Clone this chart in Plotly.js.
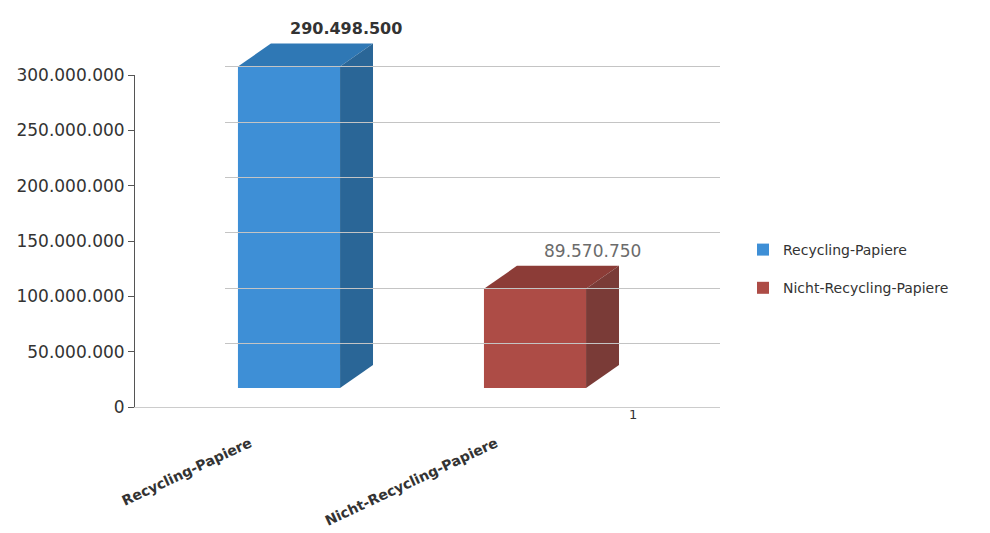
<!DOCTYPE html>
<html>
<head>
<meta charset="utf-8">
<script src="https://cdn.plot.ly/plotly-3.0.1.min.js"></script>
<style>html,body{margin:0;padding:0;background:#fff;}#chart{width:990px;height:533px;}</style>
</head>
<body>
<div id="chart"></div>
<script>
// ---- data ----
const categories = ['Recycling-Papiere', 'Nicht-Recycling-Papiere'];
const seriesNames = ['Recycling-Papiere', 'Nicht-Recycling-Papiere'];
const values = [290498500, 89570750];
const yTickValues = [0, 50000000, 100000000, 150000000, 200000000, 250000000, 300000000];
const depthLabel = '1';

// ---- styling ----
const frontColors = ['#3e8fd6', '#ad4c46'];
const topColors = ['#2f78b5', '#8c3c37'];
const sideColors = ['#2a6697', '#7a3b37'];
const labelColors = ['#333333', '#6b6b6b'];
const barWidth = 0.415;
const depthX = 0.134;       // in category units
const depthY = 20800000;    // in value units

const traces = [];
values.forEach((v, i) => {
  traces.push({
    type: 'bar', x: [i], y: [v], width: barWidth,
    name: seriesNames[i], legendgroup: 'g' + i,
    xaxis: 'x', yaxis: 'y2',
    marker: {color: frontColors[i], line: {width: 0}},
    hoverinfo: 'y'
  });
});
values.forEach((v, i) => {
  const l = i - barWidth / 2, r = i + barWidth / 2;
  // top face
  traces.push({
    type: 'scatter', mode: 'lines', fill: 'toself', xaxis: 'x', yaxis: 'y2',
    x: [l, r, r + depthX, l + depthX, l],
    y: [v, v, v + depthY, v + depthY, v],
    fillcolor: topColors[i], line: {width: 0, color: topColors[i]},
    showlegend: false, hoverinfo: 'skip'
  });
  // side face
  traces.push({
    type: 'scatter', mode: 'lines', fill: 'toself', xaxis: 'x', yaxis: 'y2',
    x: [r, r + depthX, r + depthX, r, r],
    y: [v, v + depthY, depthY, 0, v],
    fillcolor: sideColors[i], line: {width: 0, color: sideColors[i]},
    showlegend: false, hoverinfo: 'skip'
  });
});
// invisible trace to create gridline subplot
traces.push({type: 'scatter', x: [0], y: [0], xaxis: 'x2', yaxis: 'y3', mode: 'markers',
  marker: {opacity: 0}, showlegend: false, hoverinfo: 'skip'});

const fmt = n => n.toString().replace(/\B(?=(\d{3})+(?!\d))/g, '.');

const annotations = values.map((v, i) => ({
  xref: 'x', yref: 'y2', x: i + 0.2, y: v + depthY, xshift: 8, yshift: 3,
  text: fmt(v), showarrow: false, xanchor: 'center', yanchor: 'bottom',
  font: {family: 'DejaVu Sans', size: i === 0 ? 16 : 17, color: labelColors[i], weight: i === 0 ? 'bold' : 'normal'}
}));
annotations.push({xref: 'x', yref: 'y', x: 1.4, y: 0, yshift: 2, yanchor: 'top',
  text: depthLabel, showarrow: false, font: {family: 'DejaVu Sans', size: 13, color: '#333'}});

const P = p => (533 - p) / 533;

const layout = {
  width: 990, height: 533,
  margin: {l: 0, r: 0, t: 0, b: 0},
  paper_bgcolor: '#ffffff', plot_bgcolor: 'rgba(0,0,0,0)',
  separators: ',.',
  barmode: 'overlay',
  showlegend: true,
  legend: {x: 0.7505, xanchor: 'left', y: P(234), yanchor: 'top',
    font: {family: 'DejaVu Sans', size: 14, color: '#333'},
    tracegroupgap: 17, traceorder: 'grouped', bgcolor: 'rgba(0,0,0,0)'},
  xaxis: {domain: [135 / 990, 720 / 990], range: [-0.626, 1.752], anchor: 'y',
    tickvals: [0, 1], ticktext: categories, tickangle: -25,
    ticklabelshift: -39, ticklabelstandoff: 22, ticks: '',
    showgrid: false, zeroline: false, showline: true, linecolor: '#cccccc', linewidth: 1,
    tickfont: {family: 'DejaVu Sans', size: 14, color: '#333', weight: 'bold'}, fixedrange: true},
  yaxis: {domain: [P(407), P(75)], range: [0, 300000000], anchor: 'x',
    tickvals: yTickValues, tickformat: ',d', ticks: 'outside', ticklen: 6, tickcolor: '#555',
    showline: true, linecolor: '#555', linewidth: 1, showgrid: false, zeroline: false,
    tickfont: {family: 'DejaVu Sans', size: 17, color: '#333'}, fixedrange: true},
  yaxis2: {domain: [P(407), P(10)], range: [-17170000, 341550000], anchor: 'x',
    visible: false, fixedrange: true},
  xaxis2: {domain: [225 / 990, 720 / 990], range: [0, 1], anchor: 'y3', visible: false, fixedrange: true},
  yaxis3: {domain: [P(407), P(10)], range: [-7230000, 351490000], anchor: 'x2',
    tickvals: yTickValues.slice(1), showticklabels: false, ticks: '', showline: false,
    showgrid: true, gridcolor: '#c4c4c4', gridwidth: 1, zeroline: false, fixedrange: true},
  annotations: annotations
};

Plotly.newPlot('chart', traces, layout, {displayModeBar: false, staticPlot: true});
</script>
</body>
</html>
